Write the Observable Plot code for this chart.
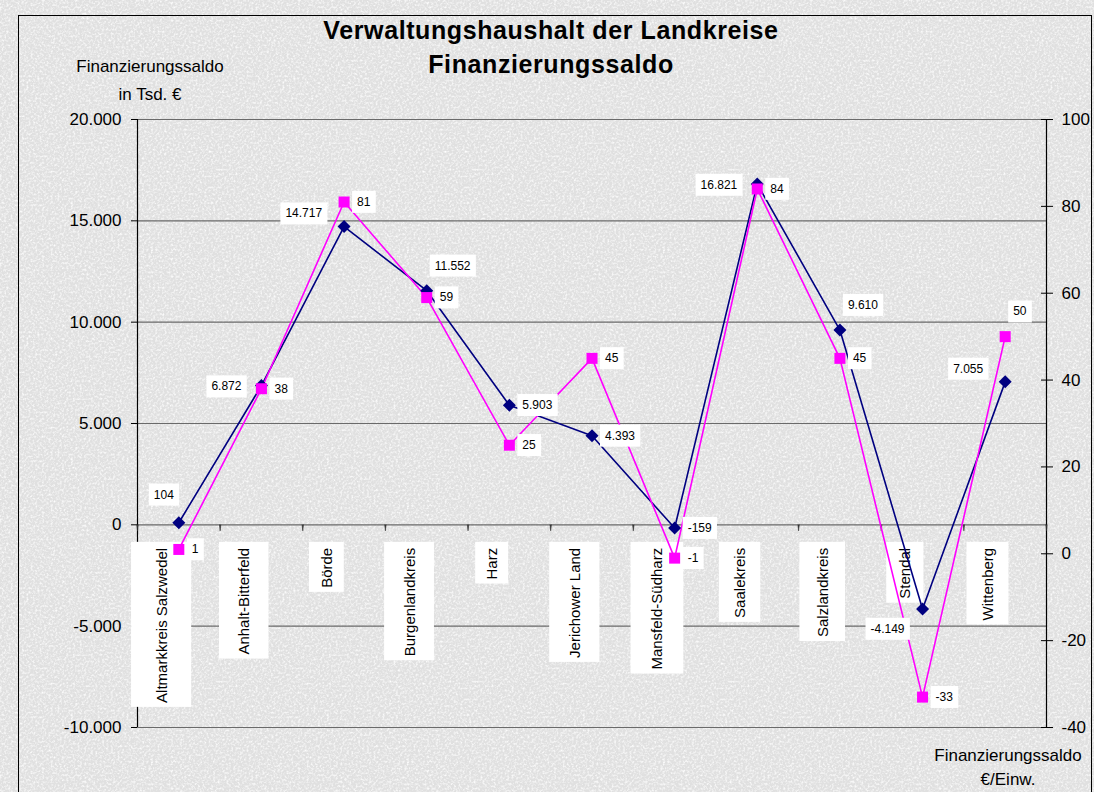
<!DOCTYPE html>
<html><head><meta charset="utf-8">
<script src="https://cdn.jsdelivr.net/npm/d3@7"></script>
<script src="https://cdn.jsdelivr.net/npm/@observablehq/plot@0.6"></script>
<style>
body{margin:0;background:#fff;}
#wrap{position:relative;width:1094px;height:792px;overflow:hidden;font-family:"Liberation Sans",Arial,sans-serif;
 background-color:#e0e0e0;
 background-image:url("data:image/svg+xml;utf8,<svg xmlns='http://www.w3.org/2000/svg' width='256' height='256'><filter id='n'><feTurbulence type='fractalNoise' baseFrequency='0.45' numOctaves='3' stitchTiles='stitch'/><feColorMatrix type='matrix' values='0 0 0 0 1  0 0 0 0 1  0 0 0 0 1  2 0 0 0 -0.85'/></filter><rect width='100%' height='100%' filter='url(%23n)'/></svg>");}
#chart{position:absolute;left:0;top:0;}
.ttl{position:absolute;left:301px;width:500px;top:13px;text-align:center;font-weight:bold;font-size:25px;letter-spacing:0.6px;line-height:34px;color:#000;}
.ylab{position:absolute;left:50px;width:200px;top:53px;text-align:center;font-size:17px;line-height:28px;color:#000;}
.y2lab{position:absolute;left:908px;width:200px;top:744px;text-align:center;font-size:17px;line-height:24px;color:#000;}
#border{position:absolute;left:18px;top:15px;width:1072px;height:800px;border:1px solid #000;pointer-events:none;}
</style></head><body>
<div id="wrap">
 <div id="chart"></div>
 <div class="ttl">Verwaltungshaushalt der Landkreise<br>Finanzierungssaldo</div>
 <div class="ylab">Finanzierungssaldo<br>in Tsd. €</div>
 <div class="y2lab">Finanzierungssaldo<br>€/Einw.</div>
 <div id="border"></div>
</div>
<script>
const categories = ["Altmarkkreis Salzwedel","Anhalt-Bitterfeld","Börde","Burgenlandkreis","Harz","Jerichower Land","Mansfeld-Südharz","Saalekreis","Salzlandkreis","Stendal","Wittenberg"];
const saldoTsd = [104, 6872, 14717, 11552, 5903, 4393, -159, 16821, 9610, -4149, 7055];
const saldoProEinw = [1, 38, 81, 59, 25, 45, -1, 84, 45, -33, 50];
const leftTicks = [-10000, -5000, 0, 5000, 10000, 15000, 20000];
const rightTicks = [-40, -20, 0, 20, 40, 60, 80, 100];
const saldoTsdLabelPos = ["above-left","left","upper-left","upper-right","right","right","right","left","upper-right","lower-left","upper-left"];
const proEinwLabelPos = ["right","right","right","right","right","right","right","right","right","right","upper-right"];

const leftDomain = [-10000, 20000];
const rightDomain = [-40, 100];
const toLeft = v => leftDomain[0] + (v - rightDomain[0]) * (leftDomain[1]-leftDomain[0]) / (rightDomain[1]-rightDomain[0]);
const fromLeft = v => rightDomain[0] + (v - leftDomain[0]) * (rightDomain[1]-rightDomain[0]) / (leftDomain[1]-leftDomain[0]);

const de = d3.formatLocale({decimal:",", thousands:".", grouping:[3], currency:["","€"], minus:"-"});
const fmt = de.format(",d");

const placements = {
  "above-left": {dx:-15, dy:-28, textAnchor:"middle"},
  "left": {dx:-20, dy:1, textAnchor:"end"},
  "upper-left": {dx:-22, dy:-13, textAnchor:"end"},
  "upper-right": {dx:8, dy:-25, textAnchor:"start"},
  "right": {dx:13, dy:0, textAnchor:"start"},
  "lower-left": {dx:-18, dy:20, textAnchor:"end"}
};

const tsdRows = categories.map((c,i)=>({i, c, v:saldoTsd[i], y:saldoTsd[i], pos:saldoTsdLabelPos[i]}));
const einwRows = categories.map((c,i)=>({i, c, v:saldoProEinw[i], y:toLeft(saldoProEinw[i]), pos:proEinwLabelPos[i]}));

const diamond = {draw(ctx, size){ const s = Math.sqrt(size/Math.PI); ctx.moveTo(0,-s); ctx.lineTo(s,0); ctx.lineTo(0,s); ctx.lineTo(-s,0); ctx.closePath(); }};
const square = {draw(ctx, size){ const s = Math.sqrt(size/Math.PI); ctx.rect(-s,-s,2*s,2*s); }};

function labelMarks(rows, cls){
  return Object.entries(placements).map(([k,p]) =>
    Plot.text(rows.filter(r=>r.pos===k), {x:r=>r.i+0.5, y:"y", text:r=>fmt(r.v), dx:p.dx, dy:p.dy, textAnchor:p.textAnchor, fontSize:12, fill:"#000", className:cls}));
}

const navy = "#000080", magenta = "#ff00ff", grid = "#6a6a6a";

const svg = Plot.plot({
  width:1094, height:792,
  marginLeft:137, marginRight:48, marginTop:119, marginBottom:65,
  x:{domain:[0, categories.length], axis:null},
  y:{domain:leftDomain, axis:null},
  style:{background:"transparent", fontFamily:"'Liberation Sans', Arial, sans-serif", color:"#000", overflow:"visible"},
  marks:[
    Plot.ruleY(leftTicks, {stroke:grid, strokeWidth:1.2}),
    Plot.axisY({anchor:"left", ticks:leftTicks, tickFormat:fmt, tickSize:6, tickPadding:10, fontSize:17, stroke:"#000", label:null}),
    Plot.axisY({anchor:"right", ticks:rightTicks.map(toLeft), tickFormat:d=>String(Math.round(fromLeft(d))), tickSize:12, dx:-6, tickPadding:9, fontSize:17, textAnchor:"start", stroke:"#000", label:null}),
    Plot.ruleX([0, categories.length], {stroke:"#000", strokeWidth:1.2}),
    Plot.vector(d3.range(categories.length+1), {x:d=>d, y:0, length:6, rotate:180, anchor:"start", shape:"spike", r:0.7, fill:"#333", stroke:"#333", strokeWidth:0.6}),
    Plot.text(categories, {x:(d,i)=>i+0.5, y:0, text:d=>d, rotate:-90, textAnchor:"end", dx:-17, dy:23, fontSize:15, fill:"#000", className:"catlab"}),
    Plot.line(tsdRows, {x:r=>r.i+0.5, y:"y", stroke:navy, strokeWidth:1.6}),
    Plot.line(einwRows, {x:r=>r.i+0.5, y:"y", stroke:magenta, strokeWidth:1.6}),
    Plot.dot(tsdRows, {x:r=>r.i+0.5, y:"y", symbol:diamond, r:6.5, fill:navy, stroke:null}),
    Plot.dot(einwRows, {x:r=>r.i+0.5, y:"y", symbol:square, r:5.5, fill:magenta, stroke:null}),
    ...labelMarks(tsdRows, "dlab"),
    ...labelMarks(einwRows, "dlab")
  ]
});
document.getElementById("chart").appendChild(svg);

function addBoxes(selector, padFn){
  const sr = svg.getBoundingClientRect();
  const groups = svg.querySelectorAll(selector);
  groups.forEach(g => {
    const bg = document.createElementNS("http://www.w3.org/2000/svg","g");
    g.querySelectorAll("text").forEach(t => {
      const b = t.getBoundingClientRect();
      const box = padFn(b.x - sr.x, b.y - sr.y, b.width, b.height);
      const r = document.createElementNS("http://www.w3.org/2000/svg","rect");
      r.setAttribute("x", box.x); r.setAttribute("y", box.y);
      r.setAttribute("width", box.w); r.setAttribute("height", box.h);
      r.setAttribute("fill", "#fff");
      bg.appendChild(r);
    });
    g.parentNode.insertBefore(bg, g);
  });
}
addBoxes("g.catlab", (x,y,w,h) => { const bw = 26 + 0.22*h; return {x: x + w/2 - bw/2, y: y - 6, w: bw, h: h + 10}; });
addBoxes("g.dlab", (x,y,w,h) => ({x: x - 5, y: y - 4, w: w + 10, h: h + 8}));
</script>
</body></html>
